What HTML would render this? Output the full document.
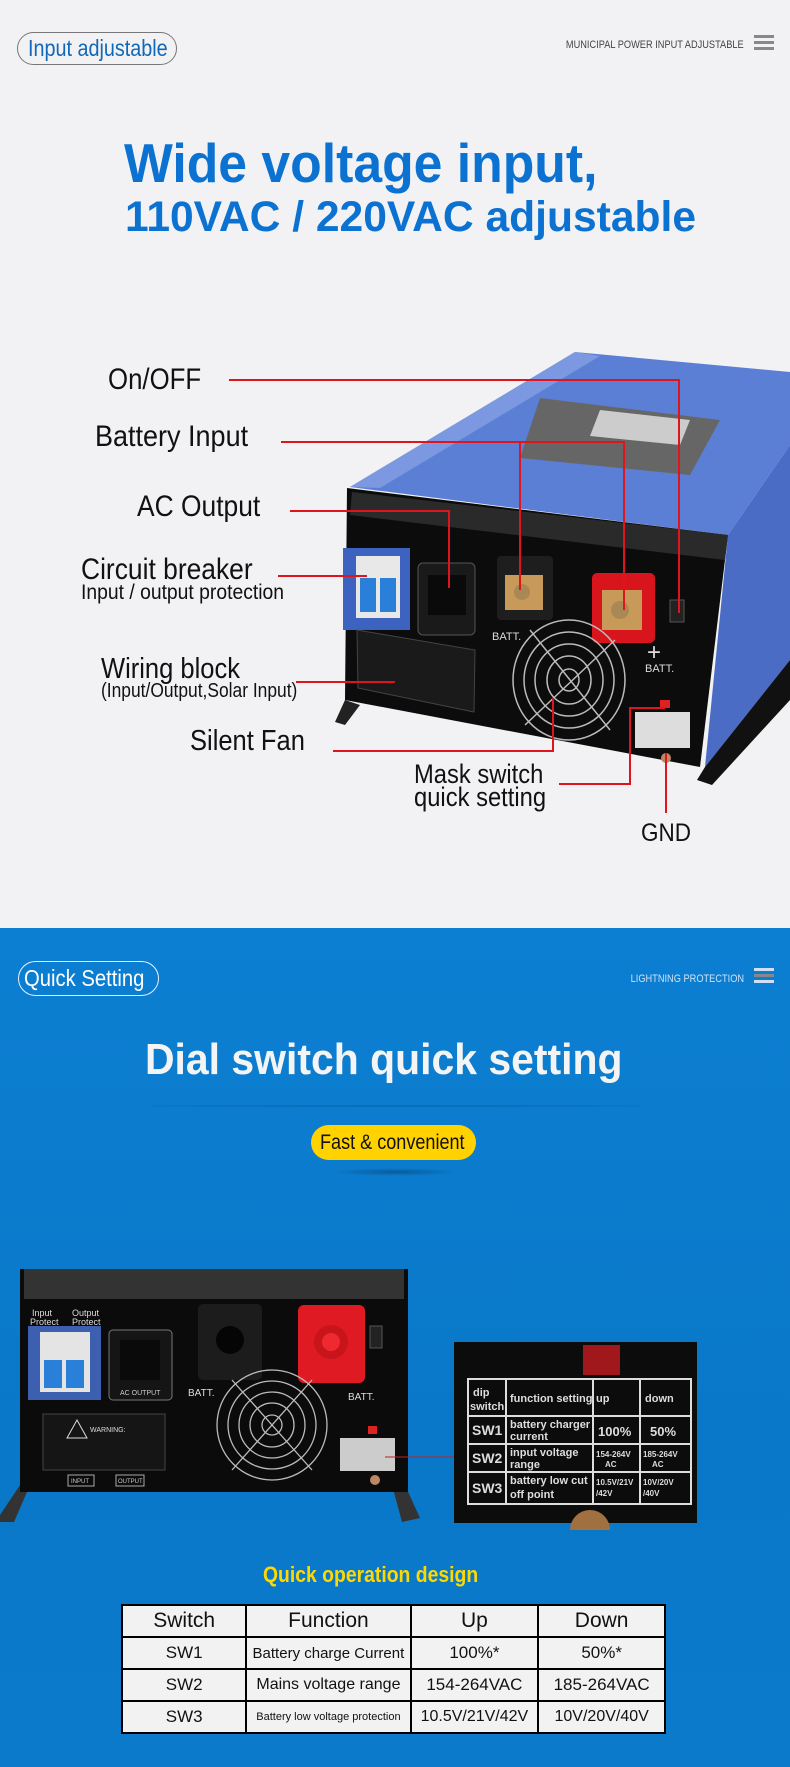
<!DOCTYPE html>
<html><head><meta charset="utf-8">
<style>
*{margin:0;padding:0;box-sizing:border-box}
body{width:790px;height:1767px;position:relative;overflow:hidden;font-family:"Liberation Sans",sans-serif}
.t{position:absolute;white-space:nowrap;line-height:1;transform-origin:0 0}
.r{position:absolute;white-space:nowrap;line-height:1;transform-origin:100% 0}
.s1{position:absolute;left:0;top:0;width:790px;height:928px;background:#f2f2f4}
.s2{position:absolute;left:0;top:928px;width:790px;height:839px;background:linear-gradient(#0c7fd2,#0a78c8 60%,#0b7acb)}
.ham{position:absolute;width:20px;height:15px;border-top:3px solid #888;border-bottom:3px solid #888}
.ham:after{content:"";position:absolute;left:0;right:0;top:3px;height:3px;background:#888}
.pill{position:absolute;border-radius:18px}
table{position:absolute;left:121px;top:1604px;width:545px;border-collapse:collapse;background:#f2f2f2}
td{border:2px solid #000;height:32px;text-align:center;color:#111;font-size:17px;padding:0}
</style></head><body>
<div class="s1">
 <div class="pill" style="left:17px;top:32px;width:160px;height:33px;border:1px solid #777"></div>
 <div class="t" style="left:28px;top:37px;font-size:23px;color:#1268b8;transform:scaleX(.86)">Input adjustable</div>
 <div class="r" style="right:46px;top:40px;font-size:11px;color:#444;transform:scaleX(.84)">MUNICIPAL POWER INPUT ADJUSTABLE</div>
 <div class="ham" style="left:754px;top:35px"></div>
 <div class="t" style="left:124px;top:136px;font-size:55px;font-weight:bold;color:#0b72d2;transform:scaleX(.94)">Wide voltage input,</div>
 <div class="t" style="left:125px;top:196px;font-size:43px;font-weight:bold;color:#0b72d2;transform:scaleX(.99)">110VAC / 220VAC adjustable</div>

 <svg style="position:absolute;left:0;top:0" width="790" height="928">
  <polygon points="350,487 575,352 790,372 790,445 728,535" fill="#5c7fd6"/>
  <polygon points="350,487 575,352 600,356 380,488" fill="#7b98e0"/>
  <polygon points="540,398 720,420 690,475 520,458" fill="#666"/>
  <polygon points="600,410 690,420 680,445 590,436" fill="#ccc"/>
  <polygon points="728,535 790,445 790,660 705,767" fill="#4a6cc4"/>
  <polygon points="705,767 790,660 790,700 712,785 697,780" fill="#111"/>
  <polygon points="347,488 728,535 700,767 345,700" fill="#0c0c0c"/>
  <polygon points="352,492 728,535 725,560 350,515" fill="#2a2a2a"/>
  <polygon points="345,700 360,705 345,725 335,722" fill="#222"/>
  <rect x="343" y="548" width="67" height="82" fill="#3d63c0"/>
  <rect x="356" y="556" width="44" height="62" fill="#e8e8e8"/>
  <rect x="360" y="578" width="16" height="34" fill="#2a7fd8"/>
  <rect x="380" y="578" width="16" height="34" fill="#2a7fd8"/>
  <rect x="418" y="563" width="57" height="72" rx="5" fill="#1a1a1a" stroke="#555"/>
  <rect x="428" y="575" width="38" height="40" fill="#0a0a0a"/>
  <rect x="497" y="556" width="56" height="64" rx="4" fill="#1e1e1e"/>
  <rect x="505" y="575" width="38" height="35" fill="#c89a5a"/>
  <circle cx="522" cy="592" r="8" fill="#aa8855"/>
  <rect x="592" y="573" width="63" height="70" rx="5" fill="#d8141c"/>
  <rect x="602" y="590" width="40" height="40" fill="#c89a5a"/>
  <circle cx="620" cy="610" r="9" fill="#aa8855"/>
  <rect x="670" y="600" width="14" height="22" fill="#222" stroke="#555"/>
  <text x="492" y="640" fill="#ddd" font-size="11" font-family="Liberation Sans">BATT.</text>
  <text x="645" y="672" fill="#ddd" font-size="11" font-family="Liberation Sans">BATT.</text>
  <text x="647" y="660" fill="#ddd" font-size="24" font-family="Liberation Sans">+</text>
  <g fill="none" stroke="#bbb" stroke-width="1.5">
   <ellipse cx="569" cy="680" rx="56" ry="60"/><ellipse cx="569" cy="680" rx="45" ry="48"/>
   <ellipse cx="569" cy="680" rx="34" ry="36"/><ellipse cx="569" cy="680" rx="22" ry="24"/>
   <ellipse cx="569" cy="680" rx="10" ry="11"/>
   <line x1="530" y1="630" x2="610" y2="730"/><line x1="615" y1="640" x2="525" y2="725"/>
  </g>
  <polygon points="357,630 475,650 474,712 358,688" fill="#1a1a1a" stroke="#444"/>
  <rect x="635" y="712" width="55" height="36" fill="#ddd"/>
  <rect x="660" y="700" width="10" height="8" fill="#d22"/>
  <circle cx="666" cy="758" r="5" fill="#b86"/>
  <g fill="none" stroke="#e0141c" stroke-width="2">
   <polyline points="229,380 679,380 679,613"/>
   <polyline points="281,442 624,442 624,610"/>
   <line x1="520" y1="442" x2="520" y2="590"/>
   <polyline points="290,511 449,511 449,588"/>
   <line x1="278" y1="576" x2="367" y2="576"/>
   <line x1="296" y1="682" x2="395" y2="682"/>
   <polyline points="333,751 553,751 553,698"/>
   <polyline points="559,784 630,784 630,708 665,708"/>
   <line x1="666" y1="753" x2="666" y2="813"/>
  </g>
 </svg>
 <div class="t" style="left:108px;top:365px;font-size:30px;color:#111;transform:scaleX(.86)">On/OFF</div>
 <div class="t" style="left:95px;top:422px;font-size:30px;color:#111;transform:scaleX(.9)">Battery Input</div>
 <div class="t" style="left:137px;top:492px;font-size:30px;color:#111;transform:scaleX(.88)">AC Output</div>
 <div class="t" style="left:81px;top:555px;font-size:30px;color:#111;transform:scaleX(.88)">Circuit breaker</div>
 <div class="t" style="left:81px;top:582px;font-size:21px;color:#111;transform:scaleX(.92)">Input / output protection</div>
 <div class="t" style="left:101px;top:655px;font-size:29px;color:#111;transform:scaleX(.88)">Wiring block</div>
 <div class="t" style="left:101px;top:681px;font-size:20px;color:#111;transform:scaleX(.87)">(Input/Output,Solar Input)</div>
 <div class="t" style="left:190px;top:727px;font-size:29px;color:#111;transform:scaleX(.88)">Silent Fan</div>
 <div class="t" style="left:414px;top:761px;font-size:27px;color:#111;transform:scaleX(.88)">Mask switch</div>
 <div class="t" style="left:414px;top:784px;font-size:27px;color:#111;transform:scaleX(.88)">quick setting</div>
 <div class="t" style="left:641px;top:821px;font-size:25px;color:#111;transform:scaleX(.9)">GND</div>
</div>

<div class="s2">
 <div class="pill" style="left:18px;top:33px;width:141px;height:35px;border:1px solid #e8f0ff"></div>
 <div class="t" style="left:24px;top:39px;font-size:23px;color:#fff;transform:scaleX(.88)">Quick Setting</div>
 <div class="r" style="right:46px;top:46px;font-size:11px;color:#cfe0f2;transform:scaleX(.84)">LIGHTNING PROTECTION</div>
 <div class="ham" style="left:754px;top:40px;border-color:#cfe0f2"></div>
 <div class="t" style="left:145px;top:110px;font-size:44px;font-weight:bold;color:#f4f4f4;transform:scaleX(.93)">Dial switch quick setting</div>
 <div style="position:absolute;left:150px;top:177px;width:490px;height:2px;background:radial-gradient(#0864b0,transparent)"></div>
 <div class="pill" style="left:311px;top:197px;width:165px;height:35px;background:#ffd200;border-radius:18px"></div>
 <div class="t" style="left:320px;top:204px;font-size:21px;color:#111;transform:scaleX(.86)">Fast &amp; convenient</div>
 <div style="position:absolute;left:330px;top:240px;width:130px;height:8px;border-radius:50%;background:radial-gradient(#0a5a9a,transparent 70%)"></div>
</div>

<svg style="position:absolute;left:0;top:1260px" width="790" height="270">
 <polygon points="0,255 20,225 30,225 14,262 0,262" fill="#333"/>
 <polygon points="392,225 405,225 420,258 402,262" fill="#333"/>
 <rect x="20" y="9" width="388" height="223" fill="#0b0b0b"/>
 <rect x="24" y="9" width="380" height="30" fill="#333"/>
 <text x="32" y="56" fill="#ddd" font-size="9" font-family="Liberation Sans">Input</text>
 <text x="30" y="65" fill="#ddd" font-size="9" font-family="Liberation Sans">Protect</text>
 <text x="72" y="56" fill="#ddd" font-size="9" font-family="Liberation Sans">Output</text>
 <text x="72" y="65" fill="#ddd" font-size="9" font-family="Liberation Sans">Protect</text>
 <rect x="28" y="66" width="73" height="74" fill="#3d5fb0"/>
 <rect x="40" y="72" width="50" height="60" fill="#e4e4e4"/>
 <rect x="44" y="100" width="18" height="28" fill="#2a7fd8"/>
 <rect x="66" y="100" width="18" height="28" fill="#2a7fd8"/>
 <rect x="109" y="70" width="63" height="70" rx="4" fill="#151515" stroke="#777"/>
 <rect x="120" y="80" width="40" height="40" fill="#0a0a0a"/>
 <text x="120" y="135" fill="#ccc" font-size="7" font-family="Liberation Sans">AC OUTPUT</text>
 <rect x="198" y="44" width="64" height="76" rx="5" fill="#1c1c1c"/>
 <circle cx="230" cy="80" r="14" fill="#050505"/>
 <rect x="298" y="45" width="67" height="78" rx="6" fill="#e01a22"/>
 <circle cx="331" cy="82" r="17" fill="#c8141b"/><circle cx="331" cy="82" r="9" fill="#ee2a30"/>
 <text x="188" y="136" fill="#ddd" font-size="10" font-family="Liberation Sans">BATT.</text>
 <text x="348" y="140" fill="#ddd" font-size="10" font-family="Liberation Sans">BATT.</text>
 <rect x="370" y="66" width="12" height="22" fill="#222" stroke="#555"/>
 <g fill="none" stroke="#bbb" stroke-width="1.3">
  <circle cx="272" cy="165" r="55"/><circle cx="272" cy="165" r="44"/><circle cx="272" cy="165" r="33"/>
  <circle cx="272" cy="165" r="22"/><circle cx="272" cy="165" r="10"/>
  <line x1="232" y1="120" x2="312" y2="210"/><line x1="312" y1="120" x2="232" y2="210"/>
 </g>
 <rect x="43" y="154" width="122" height="56" fill="#151515" stroke="#444"/>
 <text x="90" y="172" fill="#ddd" font-size="7" font-family="Liberation Sans">WARNING:</text>
 <polygon points="77,160 67,178 87,178" fill="none" stroke="#ddd"/>
 <rect x="68" y="215" width="26" height="11" fill="none" stroke="#aaa"/>
 <rect x="116" y="215" width="28" height="11" fill="none" stroke="#aaa"/>
 <text x="71" y="223" fill="#ccc" font-size="6" font-family="Liberation Sans">INPUT</text>
 <text x="118" y="223" fill="#ccc" font-size="6" font-family="Liberation Sans">OUTPUT</text>
 <rect x="340" y="178" width="55" height="33" fill="#ccc"/>
 <rect x="368" y="166" width="9" height="8" fill="#d22"/>
 <circle cx="375" cy="220" r="5" fill="#b86"/>
 <line x1="385" y1="197" x2="454" y2="197" stroke="#c02020" stroke-width="1"/>
 <rect x="454" y="82" width="243" height="181" fill="#0c0c0c"/>
 <rect x="583" y="85" width="37" height="30" fill="#a0181c"/>
 <g fill="none" stroke="#ddd" stroke-width="2">
  <rect x="468" y="119" width="223" height="125"/>
  <line x1="468" y1="156" x2="691" y2="156"/><line x1="468" y1="184" x2="691" y2="184"/><line x1="468" y1="212" x2="691" y2="212"/>
  <line x1="506" y1="119" x2="506" y2="244"/><line x1="593" y1="119" x2="593" y2="244"/><line x1="640" y1="119" x2="640" y2="244"/>
 </g>
 <g fill="#ddd" font-family="Liberation Sans" font-size="11" font-weight="bold">
  <text x="473" y="136">dip</text><text x="470" y="150">switch</text>
  <text x="510" y="142">function setting</text><text x="596" y="142">up</text><text x="645" y="142">down</text>
  <text x="472" y="175" font-size="14">SW1</text><text x="510" y="168">battery charger</text><text x="510" y="180">current</text>
  <text x="598" y="176" font-size="13">100%</text><text x="650" y="176" font-size="13">50%</text>
  <text x="472" y="203" font-size="14">SW2</text><text x="510" y="196">input voltage</text><text x="510" y="208">range</text>
  <text x="596" y="197" font-size="8">154-264V</text><text x="605" y="207" font-size="8">AC</text>
  <text x="643" y="197" font-size="8">185-264V</text><text x="652" y="207" font-size="8">AC</text>
  <text x="472" y="233" font-size="14">SW3</text><text x="510" y="224">battery low cut</text><text x="510" y="238">off point</text>
  <text x="596" y="225" font-size="8">10.5V/21V</text><text x="596" y="236" font-size="8">/42V</text>
  <text x="643" y="225" font-size="8">10V/20V</text><text x="643" y="236" font-size="8">/40V</text>
 </g>
 <circle cx="590" cy="270" r="20" fill="#a07040"/>
</svg>

<div class="t" style="left:263px;top:1564px;font-size:22px;font-weight:bold;color:#ffd800;transform:scaleX(.88)">Quick operation design</div>
<table>
 <colgroup><col style="width:125px"><col style="width:165px"><col style="width:128px"><col style="width:127px"></colgroup>
 <tr><td style="font-size:21px">Switch</td><td style="font-size:21px">Function</td><td style="font-size:21px">Up</td><td style="font-size:21px">Down</td></tr>
 <tr><td>SW1</td><td style="font-size:15px">Battery charge Current</td><td>100%*</td><td>50%*</td></tr>
 <tr><td>SW2</td><td style="font-size:16px">Mains voltage range</td><td>154-264VAC</td><td>185-264VAC</td></tr>
 <tr><td>SW3</td><td style="font-size:11px">Battery low voltage protection</td><td style="font-size:16px">10.5V/21V/42V</td><td style="font-size:16px">10V/20V/40V</td></tr>
</table>
</body></html>
